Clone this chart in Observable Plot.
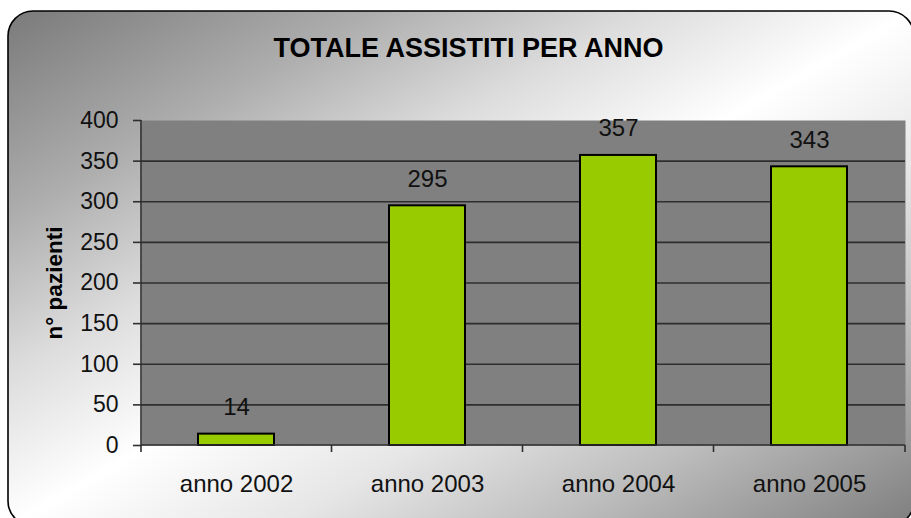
<!DOCTYPE html>
<html>
<head>
<meta charset="utf-8">
<script src="https://cdn.jsdelivr.net/npm/d3@7"></script>
<script src="https://cdn.jsdelivr.net/npm/@observablehq/plot@0.6"></script>
<style>
  html, body { margin: 0; padding: 0; background: #fff; overflow: hidden; }
  #chart svg { display: block; }
</style>
</head>
<body>
<div id="chart"></div>
<script>
const title = "TOTALE ASSISTITI PER ANNO";
const yLabel = "n° pazienti";
const years = ["anno 2002", "anno 2003", "anno 2004", "anno 2005"];
const values = [14, 295, 357, 343];
const yTicks = [0, 50, 100, 150, 200, 250, 300, 350, 400];
const gridTicks = [50, 100, 150, 200, 250, 300, 350];

const data = years.map((year, i) => ({year, value: values[i]}));

function background(index, scales, values, dims) {
  const g = d3.create("svg:g");
  const lg = g.append("defs").append("linearGradient")
    .attr("id", "bggrad").attr("x1", 0).attr("y1", 0).attr("x2", 1).attr("y2", 1);
  [[0, "#7a7a7a"], [0.2, "#adadad"], [0.35, "#dcdcdc"], [0.5, "#ffffff"],
   [0.65, "#e6e6e6"], [0.8, "#bdbdbd"], [1, "#7e7e7e"]].forEach(([o, c]) =>
    lg.append("stop").attr("offset", o).attr("stop-color", c));
  g.append("rect")
    .attr("x", 8).attr("y", 11).attr("width", 906).attr("height", 515).attr("rx", 25)
    .attr("fill", "url(#bggrad)").attr("stroke", "#000").attr("stroke-width", 1.6);
  return g.node();
}

function boundaryTicks(index, scales, values, dims) {
  const xs = scales.x;
  const bw = typeof xs.bandwidth === "function" ? xs.bandwidth() : 0;
  const centers = years.map(d => xs(d) + bw / 2);
  const bounds = [dims.marginLeft];
  for (let i = 1; i < centers.length; i++) bounds.push((centers[i - 1] + centers[i]) / 2);
  bounds.push(dims.width - dims.marginRight);
  const y0 = scales.y(0);
  const y1 = scales.y(400);
  const g = d3.create("svg:g").attr("stroke", "#2e2e2e").attr("stroke-width", 1.6);
  g.append("line").attr("x1", dims.marginLeft).attr("x2", dims.marginLeft).attr("y1", y1).attr("y2", y0);
  g.append("line").attr("x1", dims.marginLeft).attr("x2", dims.width - dims.marginRight).attr("y1", y0).attr("y2", y0);
  bounds.forEach(b => g.append("line").attr("x1", b).attr("x2", b).attr("y1", y0).attr("y2", y0 + 7));
  return g.node();
}

const chart = Plot.plot({
  width: 911,
  height: 518,
  marginLeft: 141,
  marginRight: 6,
  marginTop: 120,
  marginBottom: 73,
  style: {background: "transparent", fontFamily: "'Liberation Sans', Arial, sans-serif", color: "#000"},
  x: {domain: years, paddingInner: 0.6, paddingOuter: 0.3, label: null},
  y: {domain: [0, 400], label: null},
  marks: [
    background,
    Plot.frame({fill: "#808080", stroke: "none"}),
    Plot.ruleY(gridTicks, {stroke: "#2e2e2e", strokeWidth: 1.6}),
    Plot.barY(data, {x: "year", y: "value", fill: "#99CC00", stroke: "#000", strokeWidth: 2}),
    boundaryTicks,
    Plot.axisY({ticks: yTicks, tickSize: 8, tickPadding: 15, fontSize: 23, stroke: "#2e2e2e", strokeWidth: 1.6, fill: "#111", label: null}),
    Plot.axisX({tickSize: 0, tickPadding: 29, fontSize: 24, fill: "#111", label: null}),
    Plot.text(data, {x: "year", y: "value", text: d => String(d.value), lineAnchor: "bottom", dy: -19, fontSize: 24, fill: "#111"}),
    Plot.text([title], {frameAnchor: "top", textAnchor: "middle", lineAnchor: "bottom", dy: -64, dx: -55, fontSize: 27, fontWeight: "bold", fill: "#000"}),
    Plot.text([yLabel], {frameAnchor: "left", textAnchor: "middle", rotate: -90, dx: -87, fontSize: 22.5, fontWeight: "bold", fill: "#000"})
  ]
});
document.getElementById("chart").appendChild(chart);
</script>
</body>
</html>
